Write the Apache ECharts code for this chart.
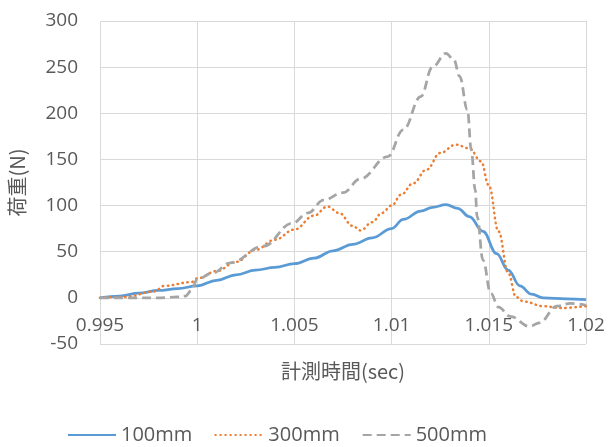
<!DOCTYPE html>
<html><head><meta charset="utf-8">
<script src="https://cdn.jsdelivr.net/npm/echarts@6/dist/echarts.min.js"></script>
<style>html,body{margin:0;padding:0;background:#fff}#c{width:609px;height:447px}</style>
</head><body><div id="c"></div>
<script>
var xTicks = ['0.995','1','1.005','1.01','1.015','1.02'];
var seriesNames = ['100mm','300mm','500mm'];
var t100 = [0.995,0.996,0.997,0.998,0.999,1.000,1.001,1.002,1.003,1.004,1.005,1.006,1.007,1.008,1.009,1.010,1.0106,1.0115,1.0121,1.0128,1.0134,1.0140,1.0147,1.0154,1.0160,1.0166,1.0172,1.0178,1.019,1.020];
var v100 = [0,2,5,8,10,13,19,25,30,33,37,43,51,58,65,75,85,94,98,101,97,88,72,48,30,13,4,0,-1,-2];
var t300 = [0.995,0.9963,0.9978,0.9983,0.9997,1.000,1.001,1.002,1.003,1.004,1.005,1.006,1.0067,1.0073,1.008,1.0084,1.009,1.0095,1.010,1.0105,1.0111,1.0118,1.0125,1.0133,1.0140,1.0146,1.0150,1.0155,1.0160,1.0164,1.0168,1.0178,1.0187,1.020];
var v300 = [0,1,7,13,17,21,29,39,52,63,74,89,99,92,78,73,82,92,100,112,124,139,157,166,162,148,122,72,27,1,-4,-9,-11,-9];
var t500 = [0.995,0.997,0.998,0.999,0.9994,0.9997,1.0000,1.0008,1.0017,1.0034,1.0049,1.0057,1.0065,1.0075,1.0084,1.0098,1.0106,1.0115,1.0121,1.0128,1.0132,1.0135,1.0139,1.0141,1.0143,1.0144,1.0147,1.0151,1.0155,1.0161,1.0171,1.0176,1.0185,1.0192,1.020];
var v500 = [0,0,0,1,2,8,20,27,38,56,81,92,106,114,129,153,182,218,250,265,258,240,204,160,117,88,41,5,-10,-20,-31,-27,-9,-6,-8];

function pairs(t, v){ return t.map(function(x,i){ return [x, v[i]]; }); }
var txt = '#595959', grid = '#D9D9D9', ff = 'Open Sans';
var chart = echarts.init(document.getElementById('c'), null, {renderer:'canvas'});
chart.setOption({
  animation:false,
  textStyle:{fontFamily:ff},
  grid:{left:100, right:23, top:21, bottom:103, containLabel:false, outerBoundsMode:'none'},
  legend:{left:62, top:420, itemWidth:48, itemHeight:14, itemGap:22,
    itemStyle:{opacity:0},
    textStyle:{color:txt, fontSize:20, fontFamily:ff},
    data:seriesNames},
  xAxis:{type:'value', min:0.995, max:1.02, interval:0.005,
    offset:-46,
    name:'計測時間(sec)', nameLocation:'middle', nameGap:63,
    nameTextStyle:{color:txt, fontSize:20, fontFamily:'Noto Sans CJK JP'},
    axisLine:{show:true, onZero:false, lineStyle:{color:grid, width:1}},
    axisTick:{show:false},
    axisLabel:{color:txt, fontSize:19, margin:18, fontFamily:ff,
      formatter:function(v){ var s = String(+(+v).toFixed(3)); return xTicks.indexOf(s)>=0 ? s : ''; }},
    splitLine:{show:true, lineStyle:{color:grid, width:1}}},
  yAxis:{type:'value', min:-50, max:300, interval:50,
    name:'荷重(N)', nameLocation:'middle', nameGap:73, nameRotate:90,
    nameTextStyle:{color:txt, fontSize:20, fontFamily:'Noto Sans CJK JP'},
    axisLine:{show:false}, axisTick:{show:false},
    axisLabel:{color:txt, fontSize:19, margin:22, fontFamily:ff},
    splitLine:{show:true, lineStyle:{color:grid, width:1}}},
  series:[
    {name:seriesNames[0], type:'line', data:pairs(t100,v100), showSymbol:false, symbol:'none',
      smooth:0.4, smoothMonotone:'x', itemStyle:{color:'#5B9BD5'},
      lineStyle:{color:'#5B9BD5', width:2.75, type:'solid'}},
    {name:seriesNames[1], type:'line', data:pairs(t300,v300), showSymbol:false, symbol:'none',
      smooth:0.4, smoothMonotone:'x', itemStyle:{color:'#ED7D31'},
      lineStyle:{color:'#ED7D31', width:2.5, type:[0.5,4.5], cap:'round'}},
    {name:seriesNames[2], type:'line', data:pairs(t500,v500), showSymbol:false, symbol:'none',
      smooth:0.4, smoothMonotone:'x', itemStyle:{color:'#A5A5A5'},
      lineStyle:{color:'#A5A5A5', width:2.75, type:[9,5]}}
  ]
});
</script></body></html>
